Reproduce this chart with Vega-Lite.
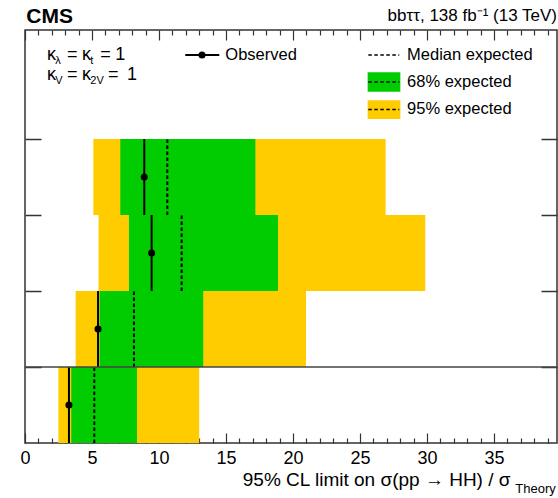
{
  "$schema": "https://vega.github.io/schema/vega-lite/v6.json",
  "width": 532,
  "height": 413,
  "autosize": "none",
  "padding": {"left": 25, "top": 30, "right": 1, "bottom": 55},
  "background": "white",
  "config": {
    "view": {"stroke": "#333", "strokeWidth": 1.5},
    "font": "Liberation Sans",
    "text": {"font": "Liberation Sans", "color": "black"}
  },
  "datasets": {
    "limits": [
      {"category": "A", "ylo": 0, "ymid": 0.5, "yhi": 1, "lo95": 2.49, "lo68": 3.45, "hi68": 8.36, "hi95": 13.0, "observed": 3.28, "expected": 5.17},
      {"category": "B", "ylo": 1, "ymid": 1.5, "yhi": 2, "lo95": 3.78, "lo68": 5.57, "hi68": 13.3, "hi95": 20.97, "observed": 5.45, "expected": 8.13},
      {"category": "C", "ylo": 2, "ymid": 2.5, "yhi": 3, "lo95": 5.49, "lo68": 7.76, "hi68": 18.88, "hi95": 29.87, "observed": 9.45, "expected": 11.69},
      {"category": "D", "ylo": 3, "ymid": 3.5, "yhi": 4, "lo95": 5.10, "lo68": 7.11, "hi68": 17.19, "hi95": 26.91, "observed": 8.90, "expected": 10.62}
    ],
    "legBoxes": [
      {"name": "68% expected", "x": 25.57, "x2": 28.01, "y": 4.622, "y2": 4.878, "color": "#00cc00"},
      {"name": "95% expected", "x": 25.57, "x2": 28.01, "y": 4.263, "y2": 4.509, "color": "#ffcc00"}
    ],
    "legDashes": [
      {"x": 25.62, "x2": 27.93, "y": 5.105},
      {"x": 25.62, "x2": 27.93, "y": 4.75},
      {"x": 25.62, "x2": 27.93, "y": 4.388}
    ],
    "legText": [
      {"t": "Observed", "x": 14.95, "y": 5.105},
      {"t": "Median expected", "x": 28.51, "y": 5.105},
      {"t": "68% expected", "x": 28.51, "y": 4.75},
      {"t": "95% expected", "x": 28.51, "y": 4.388}
    ],
    "kMain": [
      {"t": "κ", "x": 1.642, "y": 5.039},
      {"t": "=", "x": 3.134, "y": 5.039},
      {"t": "κ", "x": 4.254, "y": 5.039},
      {"t": "=", "x": 5.619, "y": 5.039},
      {"t": "1", "x": 6.739, "y": 5.039},
      {"t": "κ", "x": 1.642, "y": 4.776},
      {"t": "=", "x": 3.134, "y": 4.776},
      {"t": "κ", "x": 4.254, "y": 4.776},
      {"t": "=", "x": 6.2, "y": 4.776},
      {"t": "1", "x": 7.612, "y": 4.776}
    ],
    "kSub": [
      {"t": "λ", "x": 2.261, "y": 4.993},
      {"t": "t", "x": 4.873, "y": 4.993},
      {"t": "V", "x": 2.261, "y": 4.730},
      {"t": "2V", "x": 4.873, "y": 4.730}
    ]
  },
  "resolve": {"axis": {"x": "independent", "y": "independent"}},
  "layer": [
    {
      "data": {"name": "limits"},
      "mark": {"type": "rect", "color": "#ffcc00"},
      "encoding": {
        "x": {"field": "lo95", "type": "quantitative", "scale": {"domain": [0, 39.7], "nice": false, "zero": false},
          "axis": {
            "orient": "bottom",
            "values": [0,1,2,3,4,5,6,7,8,9,10,11,12,13,14,15,16,17,18,19,20,21,22,23,24,25,26,27,28,29,30,31,32,33,34,35,36,37,38,39],
            "labelExpr": "datum.value % 5 === 0 ? datum.label : ''",
            "tickSize": {"condition": {"test": "datum.value % 5 === 0", "value": -10}, "value": -5},
            "tickColor": "#333", "tickWidth": 1.2,
            "domain": false, "grid": false,
            "labelFontSize": 18, "labelColor": "black", "labelFont": "Liberation Sans", "labelPadding": 16,
            "labelFlush": false, "labelOverlap": false,
            "title": "95% CL limit on σ(pp → HH) / σ",
            "titleFont": "Liberation Sans", "titleFontSize": 19, "titleFontWeight": "normal", "titleColor": "black",
            "titleAlign": "right", "titleAnchor": null, "titleX": 485, "titleY": 42, "titleBaseline": "alphabetic"
          }},
        "x2": {"field": "hi95"},
        "y": {"field": "ylo", "type": "quantitative", "scale": {"domain": [0, 5.434], "nice": false, "zero": false},
          "axis": {"orient": "left", "values": [1, 2, 3, 4], "labels": false, "tickSize": -16, "tickColor": "#333", "tickWidth": 1.5, "domain": false, "grid": false, "title": null}},
        "y2": {"field": "yhi"}
      }
    },
    {
      "data": {"name": "limits"},
      "mark": {"type": "rect", "color": "#00cc00"},
      "encoding": {
        "x": {"field": "lo68", "type": "quantitative",
          "axis": {
            "orient": "top",
            "values": [0,1,2,3,4,5,6,7,8,9,10,11,12,13,14,15,16,17,18,19,20,21,22,23,24,25,26,27,28,29,30,31,32,33,34,35,36,37,38,39],
            "labels": false,
            "tickSize": {"condition": {"test": "datum.value % 5 === 0", "value": -10}, "value": -5},
            "tickColor": "#333", "tickWidth": 1.2,
            "domain": false, "grid": false, "title": null
          }},
        "x2": {"field": "hi68"},
        "y": {"field": "ylo", "type": "quantitative",
          "axis": {"orient": "right", "values": [1, 2, 3, 4], "labels": false, "tickSize": -16, "tickColor": "#333", "tickWidth": 1.5, "domain": false, "grid": false, "title": null}},
        "y2": {"field": "yhi"}
      }
    },
    {
      "data": {"name": "limits"},
      "mark": {"type": "rule", "color": "black", "strokeWidth": 2, "strokeDash": [3.5, 2.5]},
      "encoding": {
        "x": {"field": "expected", "type": "quantitative", "axis": null},
        "y": {"field": "ylo", "type": "quantitative", "axis": null},
        "y2": {"field": "yhi"}
      }
    },
    {
      "data": {"name": "limits"},
      "mark": {"type": "rule", "color": "black", "strokeWidth": 2},
      "encoding": {
        "x": {"field": "observed", "type": "quantitative", "axis": null},
        "y": {"field": "ylo", "type": "quantitative", "axis": null},
        "y2": {"field": "yhi"}
      }
    },
    {
      "data": {"name": "limits"},
      "mark": {"type": "point", "filled": true, "color": "black", "size": 50, "opacity": 1, "shape": "circle"},
      "encoding": {
        "x": {"field": "observed", "type": "quantitative", "axis": null},
        "y": {"field": "ymid", "type": "quantitative", "axis": null}
      }
    },
    {
      "data": {"values": [{"y": 1, "x": 0, "x2": 39.7}]},
      "mark": {"type": "rule", "color": "#444", "strokeWidth": 1.5},
      "encoding": {
        "x": {"field": "x", "type": "quantitative", "axis": null},
        "x2": {"field": "x2"},
        "y": {"field": "y", "type": "quantitative", "axis": null}
      }
    },
    {
      "data": {"name": "legBoxes"},
      "mark": {"type": "rect"},
      "encoding": {
        "x": {"field": "x", "type": "quantitative", "axis": null},
        "x2": {"field": "x2"},
        "y": {"field": "y", "type": "quantitative", "axis": null},
        "y2": {"field": "y2"},
        "color": {"field": "color", "type": "nominal", "scale": null, "legend": null}
      }
    },
    {
      "data": {"name": "legDashes"},
      "mark": {"type": "rule", "color": "black", "strokeWidth": 1.5, "strokeDash": [3.5, 2.5]},
      "encoding": {
        "x": {"field": "x", "type": "quantitative", "axis": null},
        "x2": {"field": "x2"},
        "y": {"field": "y", "type": "quantitative", "axis": null}
      }
    },
    {
      "data": {"values": [{"x": 11.96, "x2": 14.5, "y": 5.105}]},
      "mark": {"type": "rule", "color": "black", "strokeWidth": 2},
      "encoding": {
        "x": {"field": "x", "type": "quantitative", "axis": null},
        "x2": {"field": "x2"},
        "y": {"field": "y", "type": "quantitative", "axis": null}
      }
    },
    {
      "data": {"values": [{"x": 13.21, "y": 5.105}]},
      "mark": {"type": "point", "filled": true, "color": "black", "size": 50, "opacity": 1, "shape": "circle"},
      "encoding": {
        "x": {"field": "x", "type": "quantitative", "axis": null},
        "y": {"field": "y", "type": "quantitative", "axis": null}
      }
    },
    {
      "data": {"name": "legText"},
      "mark": {"type": "text", "align": "left", "baseline": "middle", "fontSize": 16.5, "font": "Liberation Sans"},
      "encoding": {
        "x": {"field": "x", "type": "quantitative", "axis": null},
        "y": {"field": "y", "type": "quantitative", "axis": null},
        "text": {"field": "t"}
      }
    },
    {
      "data": {"name": "kMain"},
      "mark": {"type": "text", "align": "left", "baseline": "alphabetic", "fontSize": 18, "font": "Liberation Sans"},
      "encoding": {
        "x": {"field": "x", "type": "quantitative", "axis": null},
        "y": {"field": "y", "type": "quantitative", "axis": null},
        "text": {"field": "t"}
      }
    },
    {
      "data": {"name": "kSub"},
      "mark": {"type": "text", "align": "left", "baseline": "alphabetic", "fontSize": 11, "font": "Liberation Sans"},
      "encoding": {
        "x": {"field": "x", "type": "quantitative", "axis": null},
        "y": {"field": "y", "type": "quantitative", "axis": null},
        "text": {"field": "t"}
      }
    },
    {
      "data": {"values": [{"t": "CMS", "x": 0.1, "y": 5.526}]},
      "mark": {"type": "text", "align": "left", "baseline": "alphabetic", "fontSize": 21, "fontWeight": "bold", "font": "Liberation Sans"},
      "encoding": {
        "x": {"field": "x", "type": "quantitative", "axis": null},
        "y": {"field": "y", "type": "quantitative", "axis": null},
        "text": {"field": "t"}
      }
    },
    {
      "data": {"values": [{"t": "bbττ, 138 fb⁻¹ (13 TeV)", "x": 39.7, "y": 5.553}]},
      "mark": {"type": "text", "align": "right", "baseline": "alphabetic", "fontSize": 17, "font": "Liberation Sans"},
      "encoding": {
        "x": {"field": "x", "type": "quantitative", "axis": null},
        "y": {"field": "y", "type": "quantitative", "axis": null},
        "text": {"field": "t"}
      }
    },
    {
      "data": {"values": [{"t": "Theory", "x": 36.59, "y": -0.66}]},
      "mark": {"type": "text", "align": "left", "baseline": "alphabetic", "fontSize": 13, "font": "Liberation Sans"},
      "encoding": {
        "x": {"field": "x", "type": "quantitative", "axis": null},
        "y": {"field": "y", "type": "quantitative", "axis": null},
        "text": {"field": "t"}
      }
    }
  ]
}
